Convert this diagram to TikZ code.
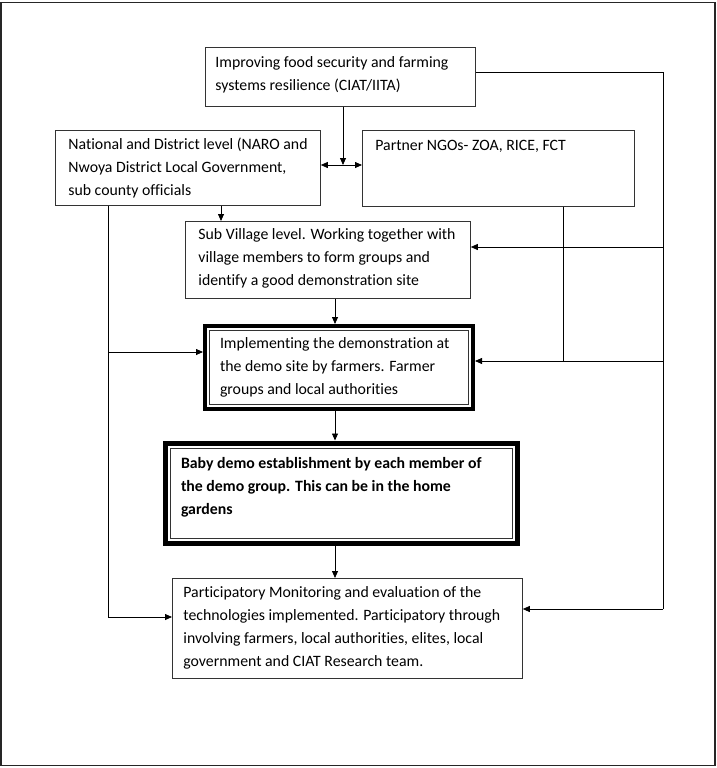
\documentclass[tikz,border=0pt]{standalone}
\usepackage{fontspec}
\setmainfont[Ligatures={NoCommon}]{Carlito}
\usetikzlibrary{arrows.meta}
\newcommand{\bt}[3]{\parbox[c][#2][t]{#1}{\raggedright #3}}
\tikzset{
  box/.style={draw=black!80, line width=0.8pt, anchor=north west, inner xsep=12pt, inner ysep=9pt,
    font=\fontsize{15.8}{23}\selectfont},
  thickbox/.style={box, draw=black, line width=4pt},
  innerline/.style={draw=black!80, line width=0.8pt},
  conn/.style={draw=black, line width=0.8pt},
  arr/.style={conn, -{Triangle[length=7pt,width=6pt]}},
  darr/.style={conn, {Triangle[length=7pt,width=6pt]}-{Triangle[length=7pt,width=6pt]}},
}
\begin{document}
\begin{tikzpicture}[x=1pt,y=-1pt]
\useasboundingbox (0,0) rectangle (717,768);
\draw[black!85, line width=1.5pt] (1,2.5) rectangle (715,765.5);

\node[box, inner xsep=10pt, inner ysep=9pt] (top) at (205,47)
  {\bt{250pt}{41pt}{\mbox{Improving food security and farming}\\\mbox{systems resilience (CIAT/IITA)}}};
\node[box, inner xsep=13pt, inner ysep=8pt] (nat) at (55,130)
  {\bt{239pt}{59pt}{\mbox{National and District level (NARO and}\\\mbox{Nwoya District Local Government,}\\\mbox{sub county officials}}};
\node[box, inner xsep=13pt, inner ysep=10pt] (ngo) at (362,130)
  {\bt{246pt}{56pt}{\mbox{Partner NGOs- ZOA, RICE, FCT}}};
\node[box, inner xsep=13pt, inner ysep=7pt] (sub) at (185,221)
  {\bt{259pt}{63pt}{\mbox{Sub Village level. Working together with}\\\mbox{village members to form groups and}\\\mbox{identify a good demonstration site}}};
\node[thickbox, inner xsep=15pt, inner ysep=12pt] (imp) at (203,324)
  {\bt{238pt}{59pt}{\mbox{Implementing the demonstration at}\\\mbox{the demo site by farmers. Farmer}\\\mbox{groups and local authorities}}};
\draw[innerline] ([shift={(6.2,6.2)}]imp.north west) rectangle ([shift={(-6.2,-6.2)}]imp.south east);
\node[thickbox, line width=5pt, inner xsep=16pt, inner ysep=14.5pt] (baby) at (162.5,440.5)
  {\bt{320pt}{71pt}{\bfseries \mbox{Baby demo establishment by each member of}\\\mbox{the demo group. This can be in the home}\\\mbox{gardens}}};
\draw[innerline] ([shift={(7.5,7.5)}]baby.north west) rectangle ([shift={(-7.5,-7.5)}]baby.south east);
\node[box, inner xsep=11pt, inner ysep=8pt] (mon) at (172,578)
  {\bt{328pt}{84pt}{\mbox{Participatory Monitoring and evaluation of the}\\\mbox{technologies implemented. Participatory through}\\\mbox{involving farmers, local authorities, elites, local}\\\mbox{government and CIAT Research team.}}};

% coordinates
\coordinate (j) at (343,165);
\coordinate (rt) at (663,72);
\coordinate (rs) at (663,247);
\coordinate (ri) at (663,361);
\coordinate (rm) at (663,609);
\coordinate (pb) at (563,361);
\coordinate (la) at (108,352);
\coordinate (lm) at (108,617);
\coordinate (ns) at (221,0);
\coordinate (cx) at (335,0);

% connectors
\draw[arr] (top.south -| j) -- (j);
\draw[darr] (nat.east |- j) -- (ngo.west |- j);
\draw[conn] (top.east |- rt) -- (rt) -- (rm);
\draw[arr] (rm) -- (mon.east |- rm);
\draw[arr] (rs) -- (sub.east |- rs);
\draw[arr] (ri) -- (imp.east |- ri);
\draw[conn] (ngo.south -| pb) -- (pb);
\draw[conn] (nat.south -| lm) -- (lm);
\draw[arr] (la) -- (imp.west |- la);
\draw[arr] (lm) -- (mon.west |- lm);
\draw[arr] (nat.south -| ns) -- (sub.north -| ns);
\draw[arr] (sub.south -| cx) -- (imp.north -| cx);
\draw[arr] (imp.south -| cx) -- (baby.north -| cx);
\draw[arr] (baby.south -| cx) -- (mon.north -| cx);
\end{tikzpicture}
\end{document}
